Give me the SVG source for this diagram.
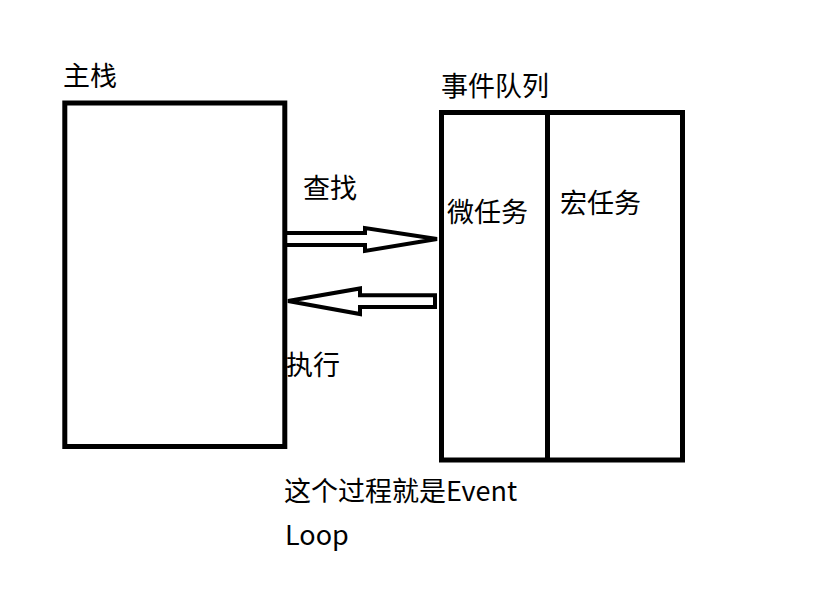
<svg xmlns="http://www.w3.org/2000/svg" width="817" height="592" viewBox="0 0 817 592">
<style>
.box{fill:none;stroke:#000;stroke-width:5}
.arr{fill:none;stroke:#000;stroke-width:4;stroke-linejoin:miter}
.t{font-family:"Microsoft YaHei","Noto Sans CJK SC",sans-serif;font-size:27px;fill:#000}
.b{font-family:"Microsoft YaHei","Noto Sans CJK SC",sans-serif;font-size:27px;fill:#000}
</style>
<rect width="817" height="592" fill="#fff"/>
<g id="main-stack">
<rect class="box" x="64.8" y="103" width="220" height="343.5"/>
<text class="t" x="63" y="86">主栈</text>
</g>
<g id="event-queue">
<rect class="box" x="441.5" y="112.5" width="241" height="347.5"/>
<line class="box" x1="547.5" y1="112.5" x2="547.5" y2="460"/>
<text class="t" x="441" y="96">事件队列</text>
</g>
<g id="micro-task">
<text class="t" x="447" y="222">微任务</text>
</g>
<g id="macro-task">
<text class="t" x="560" y="213">宏任务</text>
</g>
<g id="connectors">
<path class="arr" d="M287,233 H365 V228 L437,239 L365,251 V245 H287"/>
<path class="arr" d="M288,301 L360,288.5 V295.3 H435 V307 H360 V314 Z"/>
<text class="t" x="303" y="198">查找</text>
<text class="t" x="286" y="375">执行</text>
</g>
<g id="caption">
<text class="b" x="284" y="501">这个过程就是Event</text>
<text class="b" x="285" y="545">Loop</text>
</g>
</svg>
